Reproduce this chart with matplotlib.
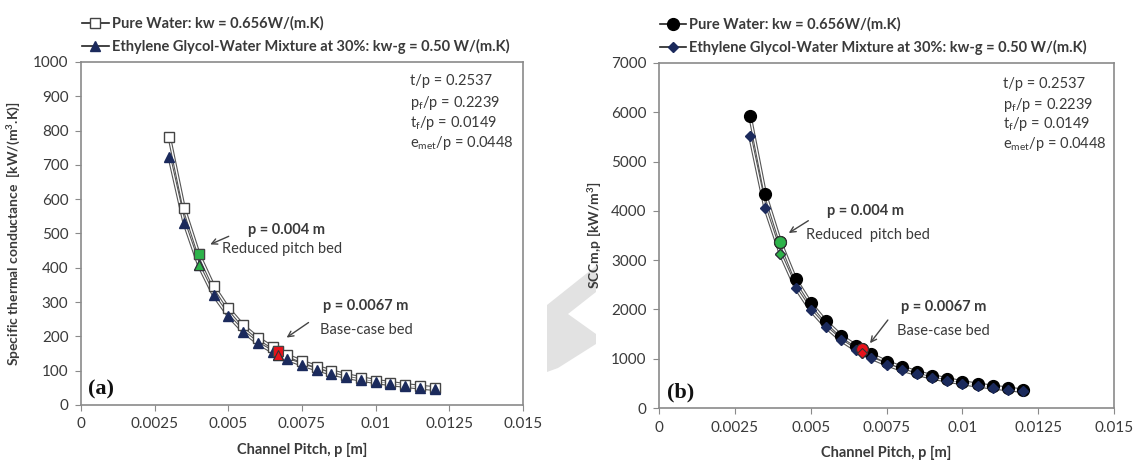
import matplotlib
matplotlib.use("Agg")
import matplotlib.pyplot as plt
from matplotlib.lines import Line2D
from matplotlib.patches import Polygon

plt.rcParams['font.family'] = ['Lato', 'DejaVu Sans']
plt.rcParams['mathtext.default'] = 'regular'

# channel pitch [m]
pitch = [0.003, 0.0035, 0.004, 0.0045, 0.005, 0.0055, 0.006, 0.0065, 0.0067, 0.007,
         0.0075, 0.008, 0.0085, 0.009, 0.0095, 0.01, 0.0105, 0.011, 0.0115, 0.012]

# (a) specific thermal conductance [kW/(m3.K)]
stc_water = [780, 573, 440, 347, 282, 232, 196, 168, 157, 145,
             127, 112, 99, 88, 79, 71, 65, 59, 54, 50]
stc_glycol = [722, 532, 407, 320, 260, 214, 180, 155, 146, 133,
              117, 103, 91, 81, 73, 66, 60, 55, 50, 46]

# (b) SCCm,p [kW/m3]
scc_water = [5920, 4350, 3370, 2620, 2130, 1760, 1470, 1260, 1190, 1090,
             940, 830, 735, 655, 590, 530, 480, 440, 400, 360]
scc_glycol = [5510, 4050, 3130, 2440, 1980, 1640, 1370, 1170, 1110, 1010,
              880, 770, 685, 610, 550, 495, 450, 410, 375, 340]

reduced_p = 0.004
base_p = 0.0067
ratios = ['t/p = 0.2537', 'p$_f$/p = 0.2239', 't$_f$/p = 0.0149', 'e$_{met}$/p = 0.0448']

lbl_water = 'Pure Water: kw = 0.656W/(m.K)'
lbl_glycol = 'Ethylene Glycol-Water Mixture at 30%: kw-g = 0.50 W/(m.K)'

GREEN = '#2db34a'
RED = '#e8121b'
NAVY = '#1b2a5c'
TXT = '#3a3a3a'
FS = 10.5


def piped_line(ax, x, y, **kw):
    # thin grey outline with a white core, like the spreadsheet style
    ax.plot(x, y, color='#555555', lw=2.6, zorder=2, solid_capstyle='round')
    ax.plot(x, y, color='white', lw=1.0, zorder=2.1)
    ax.plot(x, y, ls='none', zorder=3, **kw)
    return Line2D([], [], color='#222222', lw=1.2, **kw)


def style_axes(ax, ymax, ystep):
    ax.set_xlim(0, 0.015)
    ax.set_ylim(0, ymax)
    ax.set_xticks([0, 0.0025, 0.005, 0.0075, 0.01, 0.0125, 0.015])
    ax.set_xticklabels(['0', '0.0025', '0.005', '0.0075', '0.01', '0.0125', '0.015'])
    ax.set_yticks(range(0, ymax + 1, ystep))
    for s in ax.spines.values():
        s.set_color('#8a8a8a')
        s.set_linewidth(1.2)
    ax.tick_params(direction='out', length=4, color='#8a8a8a', labelsize=FS + 0.5,
                   labelcolor=TXT, pad=5)
    ax.set_xlabel('Channel Pitch, p [m]', fontsize=FS, fontweight='bold', color=TXT, labelpad=8)


def mark_points(ax, xs, ys, marker, size, face_list, edge):
    for x, y, fc in zip(xs, ys, face_list):
        ax.plot(x, y, ls='none', marker=marker, ms=size, mfc=fc, mec=edge, mew=0.8, zorder=4)


def add_legend(ax, handles):
    ax.legend(handles, [lbl_water, lbl_glycol], loc='lower left', bbox_to_anchor=(-0.015, 1.0),
              frameon=False, handlelength=1.8, handletextpad=0.2, borderaxespad=0.15,
              labelspacing=0.55, prop={'size': FS, 'weight': 'bold'}, labelcolor=TXT)


fig = plt.figure(figsize=(11.37, 4.70), dpi=100)
ax1 = fig.add_axes([0.0712, 0.1383, 0.3888, 0.7298])
ax2 = fig.add_axes([0.5796, 0.1319, 0.4002, 0.7341])

# faint grey stamp between the panels, kept behind everything
W, H = 1137.0, 470.0
stamp = [(547, 305), (596, 266), (596, 292), (568, 314), (596, 334), (596, 344), (558, 368), (547, 372)]
fig.patches.append(Polygon([(x / W, 1 - y / H) for x, y in stamp], closed=True,
                           transform=fig.transFigure, facecolor='#e2e2e2', edgecolor='none', zorder=-5))

# ---- (a)
h1 = piped_line(ax1, pitch, stc_water, marker='s', ms=7.5, mfc='white', mec='#444444', mew=1.0)
h2 = piped_line(ax1, pitch, stc_glycol, marker='^', ms=7.5, mfc=NAVY, mec=NAVY)
i4 = pitch.index(reduced_p)
i67 = pitch.index(base_p)
mark_points(ax1, [reduced_p, base_p], [stc_water[i4], stc_water[i67]], 's', 7.5, [GREEN, RED], '#444444')
mark_points(ax1, [reduced_p, base_p], [stc_glycol[i4], stc_glycol[i67]], '^', 7.5, [GREEN, RED], '#333333')
style_axes(ax1, 1000, 100)
ax1.set_ylabel('Specific thermal conductance  [kW/(m$^3$.K)]', fontsize=10, fontweight='bold',
               color=TXT, labelpad=8)
add_legend(ax1, [h1, h2])

ax1.annotate('', xy=(reduced_p + 0.0003, stc_water[i4] + 25), xytext=(0.0051, 495),
             arrowprops=dict(arrowstyle='->', color='#444444', lw=1.0))
ax1.text(0.00567, 510, 'p = 0.004 m', fontsize=FS, fontweight='bold', color=TXT, va='center')
ax1.text(0.00479, 455, 'Reduced pitch bed', fontsize=FS, color=TXT, va='center')
ax1.annotate('', xy=(base_p + 0.0002, stc_water[i67] + 35), xytext=(0.0078, 245),
             arrowprops=dict(arrowstyle='->', color='#444444', lw=1.0))
ax1.text(0.0082, 290, 'p = 0.0067 m', fontsize=FS, fontweight='bold', color=TXT, va='center')
ax1.text(0.0081, 220, 'Base-case bed', fontsize=FS, color=TXT, va='center')
for k, t in enumerate(ratios):
    ax1.text(0.745, 0.965 - k * 0.058, t, transform=ax1.transAxes, fontsize=FS, color=TXT, va='top')
ax1.text(0.017, 0.03, '(a)', transform=ax1.transAxes, fontsize=16, fontweight='bold',
         family='Liberation Serif', color='#111111')

# ---- (b)
h3 = piped_line(ax2, pitch, scc_water, marker='o', ms=8.5, mfc='black', mec='black')
h4 = piped_line(ax2, pitch, scc_glycol, marker='D', ms=5, mfc=NAVY, mec=NAVY)
mark_points(ax2, [reduced_p, base_p], [scc_water[i4], scc_water[i67]], 'o', 8.5, [GREEN, RED], '#333333')
mark_points(ax2, [reduced_p, base_p], [scc_glycol[i4], scc_glycol[i67]], 'D', 5, [GREEN, RED], '#333333')
style_axes(ax2, 7000, 1000)
ax2.set_ylabel('SCCm,p [kW/m$^3$]', fontsize=10, fontweight='bold', color=TXT, labelpad=6)
add_legend(ax2, [h3, h4])

ax2.annotate('', xy=(reduced_p + 0.0002, scc_water[i4] + 150), xytext=(0.0050, 3830),
             arrowprops=dict(arrowstyle='->', color='#444444', lw=1.0))
ax2.text(0.00555, 4000, 'p = 0.004 m', fontsize=FS, fontweight='bold', color=TXT, va='center')
ax2.text(0.00485, 3500, 'Reduced  pitch bed', fontsize=FS, color=TXT, va='center')
ax2.annotate('', xy=(base_p + 0.0002, scc_water[i67] + 80), xytext=(0.0076, 1830),
             arrowprops=dict(arrowstyle='->', color='#444444', lw=1.0))
ax2.text(0.00797, 2040, 'p = 0.0067 m', fontsize=FS, fontweight='bold', color=TXT, va='center')
ax2.text(0.00785, 1560, 'Base-case bed', fontsize=FS, color=TXT, va='center')
for k, t in enumerate(ratios):
    ax2.text(0.755, 0.96 - k * 0.056, t, transform=ax2.transAxes, fontsize=FS, color=TXT, va='top')
ax2.text(0.017, 0.03, '(b)', transform=ax2.transAxes, fontsize=16, fontweight='bold',
         family='Liberation Serif', color='#111111')

fig.savefig('out.png', dpi=100)
